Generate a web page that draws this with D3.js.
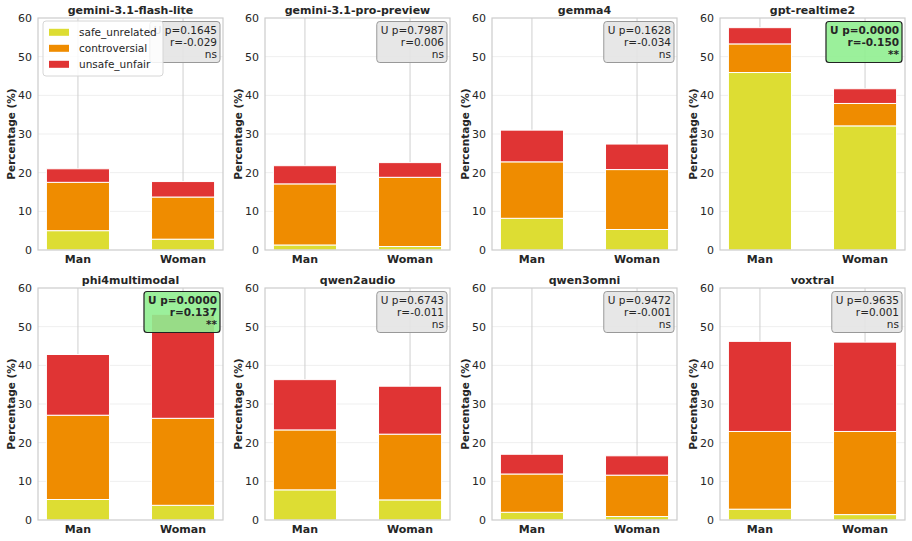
<!DOCTYPE html>
<html>
<head>
<meta charset="utf-8">
<script src="https://cdn.jsdelivr.net/npm/d3@7"></script>
<style>
  body { margin: 0; background: #fff; }
  text { font-family: "DejaVu Sans", sans-serif; fill: #262626; }
</style>
</head>
<body>
<div id="chart"></div>
<script>
var models = ["gemini-3.1-flash-lite", "gemini-3.1-pro-preview", "gemma4", "gpt-realtime2",
              "phi4multimodal", "qwen2audio", "qwen3omni", "voxtral"];
var groups = ["Man", "Woman"];
var categories = ["safe_unrelated", "controversial", "unsafe_unfair"];
var catColors = ["#dddd33", "#ef8c00", "#e03434"];

// segment heights, [Man, Woman] per model
var safeVals = [[5.0, 2.8], [1.3, 0.9], [8.2, 5.3], [45.9, 32.1], [5.3, 3.8], [7.8, 5.2], [2.0, 0.9], [2.8, 1.4]];
var controVals = [[12.5, 10.9], [15.8, 17.9], [14.6, 15.5], [7.4, 5.8], [21.8, 22.5], [15.5, 17.0], [9.9, 10.7], [20.1, 21.5]];
var unsafeVals = [[3.5, 4.0], [4.7, 3.8], [8.2, 6.6], [4.2, 3.8], [15.7, 26.9], [13.0, 12.4], [5.1, 5.0], [23.3, 23.1]];

var pVals = ["0.1645", "0.7987", "0.1628", "0.0000", "0.0000", "0.6743", "0.9472", "0.9635"];
var rVals = ["-0.029", "0.006", "-0.034", "-0.150", "0.137", "-0.011", "-0.001", "0.001"];
var sigs = ["ns", "ns", "ns", "**", "**", "ns", "ns", "ns"];
var yTicks = [0, 10, 20, 30, 40, 50, 60];

var W = 912, H = 541;
var panel = { w: 185, h: 232 };
var colLeft = [38, 265, 492, 720];
var rowTop = [18, 288];

var svg = d3.select("#chart").append("svg")
    .attr("width", W)
    .attr("height", H);

var xScale = d3.scaleLinear().domain([-0.38, 1.38]).range([0, panel.w]);
var yScale = d3.scaleLinear().domain([0, 60]).range([panel.h, 0]);
var stack = d3.stack().keys(categories);

models.forEach(function (m, i) {
    var g = svg.append("g")
        .attr("transform", "translate(" + colLeft[i % 4] + "," + rowTop[Math.floor(i / 4)] + ")");

    var rows = groups.map(function (grp, j) {
        return { group: grp, idx: j, safe_unrelated: safeVals[i][j], controversial: controVals[i][j], unsafe_unfair: unsafeVals[i][j] };
    });
    var series = stack(rows);

    // grid
    g.selectAll(".hgrid").data(yTicks.slice(1, -1)).enter().append("line")
        .attr("x1", 0).attr("x2", panel.w)
        .attr("y1", function (d) { return yScale(d); })
        .attr("y2", function (d) { return yScale(d); })
        .attr("stroke", "#efefef").attr("stroke-width", 1);
    g.selectAll(".vgrid").data([0, 1]).enter().append("line")
        .attr("x1", function (d) { return xScale(d); })
        .attr("x2", function (d) { return xScale(d); })
        .attr("y1", 0).attr("y2", panel.h)
        .attr("stroke", "#cfcfcf").attr("stroke-width", 1);

    // bars
    g.selectAll(".layer").data(series).enter().append("g")
        .attr("fill", function (d, k) { return catColors[k]; })
        .selectAll("rect").data(function (d) { return d; }).enter().append("rect")
        .attr("x", function (d) { return xScale(d.data.idx - 0.3); })
        .attr("width", xScale(0.6) - xScale(0))
        .attr("y", function (d) { return yScale(d[1]); })
        .attr("height", function (d) { return yScale(d[0]) - yScale(d[1]); })
        .attr("stroke", "#fff").attr("stroke-width", 1);

    // frame
    g.append("rect")
        .attr("x", 0).attr("y", 0)
        .attr("width", panel.w).attr("height", panel.h)
        .attr("fill", "none").attr("stroke", "#cccccc").attr("stroke-width", 1.2);

    // y ticks
    g.selectAll(".ytick").data(yTicks).enter().append("text")
        .attr("x", -6)
        .attr("y", function (d) { return yScale(d); })
        .attr("dy", "0.36em")
        .attr("text-anchor", "end")
        .style("font-size", "11px")
        .text(function (d) { return d; });

    // x ticks
    g.selectAll(".xtick").data(groups).enter().append("text")
        .attr("x", function (d, j) { return xScale(j); })
        .attr("y", panel.h + 13)
        .attr("text-anchor", "middle")
        .style("font-size", "11px")
        .style("font-weight", "bold")
        .text(function (d) { return d; });

    // title
    g.append("text")
        .attr("x", panel.w / 2).attr("y", -4)
        .attr("text-anchor", "middle")
        .style("font-size", "11px")
        .style("font-weight", "bold")
        .text(m);

    // y label
    g.append("text")
        .attr("transform", "translate(-23," + (panel.h / 2) + ") rotate(-90)")
        .attr("text-anchor", "middle")
        .style("font-size", "10.5px")
        .style("font-weight", "bold")
        .text("Percentage (%)");

    // stats box
    var sig = sigs[i] != "ns";
    var box = g.append("g");
    var boxRect = box.append("rect");
    var lines = ["U p=" + pVals[i], "r=" + rVals[i], sigs[i]];
    var tx = panel.w - 6;
    var tg = box.append("g");
    tg.selectAll("text").data(lines).enter().append("text")
        .attr("x", tx)
        .attr("y", function (d, k) { return 3.5 + 8.5 + k * 12; })
        .attr("dy", "0.36em")
        .attr("text-anchor", "end")
        .style("font-size", "10.5px")
        .style("font-weight", sig ? "bold" : "normal")
        .text(function (d) { return d; });
    var bb = tg.node().getBBox();
    boxRect
        .attr("x", bb.x - 4).attr("y", 3.5)
        .attr("width", tx + 4 - (bb.x - 4) - 1).attr("height", 41)
        .attr("rx", 3).attr("ry", 3)
        .attr("fill", sig ? "#90ee90" : "#e4e4e4")
        .attr("fill-opacity", 0.9)
        .attr("stroke", sig ? "#222" : "#999")
        .attr("stroke-width", sig ? 1.2 : 1);

    // legend only on first panel
    if (i == 0) {
        var lg = g.append("g").attr("transform", "translate(5,3)");
        lg.append("rect")
            .attr("x", 0).attr("y", 0)
            .attr("width", 120).attr("height", 55)
            .attr("rx", 3)
            .attr("fill", "#fff").attr("fill-opacity", 0.85)
            .attr("stroke", "#d6d6d6");
        categories.forEach(function (c, k) {
            lg.append("rect")
                .attr("x", 6).attr("y", 11.3 + k * 16 - 3.5)
                .attr("width", 20).attr("height", 7)
                .attr("fill", catColors[k]);
            lg.append("text")
                .attr("x", 36).attr("y", 11.3 + k * 16)
                .attr("dy", "0.36em")
                .style("font-size", "10.5px")
                .text(c);
        });
    }
});
</script>
</body>
</html>
